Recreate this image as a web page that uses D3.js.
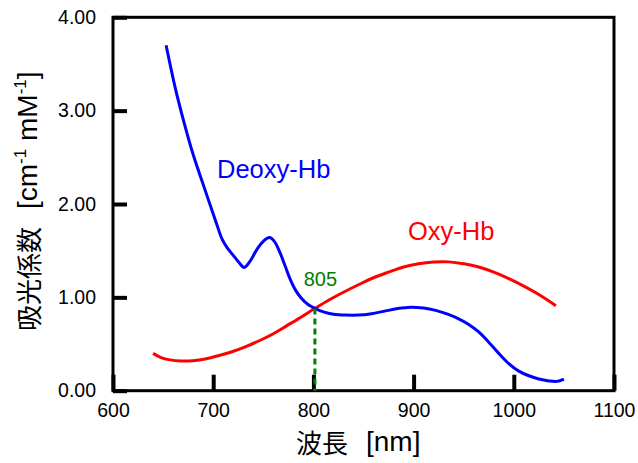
<!DOCTYPE html>
<html>
<head>
<meta charset="utf-8">
<script src="https://cdn.jsdelivr.net/npm/d3@7"></script>
<style>
  body { margin: 0; background: #fff; }
  svg { display: block; }
  text { font-family: "Liberation Sans", Arial, sans-serif; }
  .jp { font-family: "Noto Sans CJK JP", sans-serif; }
</style>
</head>
<body>
<div class="chart"></div>
<script>
const w = 638;
const h = 463;

// wavelength ticks / absorption ticks
const xTicks = [600, 700, 800, 900, 1000, 1100];
const yTicks = [0, 1, 2, 3, 4];

// Deoxy-Hb
const deoxyNm = [653, 662, 671, 680, 689, 696, 703, 709, 714, 720, 726, 731, 737, 744, 750, 756, 761, 767, 772, 777, 782, 788, 795, 802, 810, 820, 832, 845, 858, 870, 884, 897, 910, 922, 934, 945, 955, 965, 975, 985, 995, 1005, 1015, 1025, 1035, 1043, 1050];
const deoxyVal = [3.70, 3.25, 2.87, 2.53, 2.24, 2.02, 1.80, 1.62, 1.53, 1.45, 1.37, 1.32, 1.39, 1.52, 1.60, 1.64, 1.60, 1.47, 1.33, 1.19, 1.08, 0.99, 0.92, 0.88, 0.845, 0.82, 0.81, 0.81, 0.825, 0.85, 0.88, 0.895, 0.885, 0.86, 0.82, 0.77, 0.71, 0.63, 0.52, 0.40, 0.29, 0.21, 0.16, 0.125, 0.105, 0.10, 0.125];

// Oxy-Hb
const oxyNm = [640, 648, 657, 668, 680, 692, 705, 718, 732, 746, 760, 774, 788, 802, 816, 830, 845, 860, 875, 890, 905, 920, 935, 950, 965, 980, 995, 1010, 1025, 1042];
const oxyVal = [0.40, 0.355, 0.33, 0.318, 0.322, 0.34, 0.375, 0.415, 0.47, 0.535, 0.61, 0.70, 0.79, 0.885, 0.975, 1.055, 1.135, 1.21, 1.27, 1.325, 1.36, 1.378, 1.38, 1.36, 1.325, 1.27, 1.20, 1.12, 1.03, 0.91];

// crossing point (position as drawn) and its label
const crossNm = 801.5;
const crossVal = 0.88;
const crossLabel = "805";

const svg = d3.select(".chart").append("svg")
  .attr("width", w)
  .attr("height", h);

const x = d3.scaleLinear().domain([600, 1100]).range([113, 614]);
const y = d3.scaleLinear().domain([0, 4]).range([390.7, 17.3]);

const yAxis = d3.axisLeft(y)
  .tickValues(yTicks)
  .tickSizeInner(-14)
  .tickSizeOuter(0)
  .tickPadding(17)
  .tickFormat(d3.format(".2f"));

const xAxis = d3.axisBottom(x)
  .tickValues(xTicks)
  .tickSizeInner(-16)
  .tickSizeOuter(0)
  .tickPadding(12)
  .tickFormat(d3.format("d"));

const gy = svg.append("g").attr("transform", `translate(${x(600)},0)`).call(yAxis);
const gx = svg.append("g").attr("transform", `translate(0,${y(0)})`).call(xAxis);

[gx, gy].forEach(g => {
  g.select(".domain").remove();
  g.selectAll(".tick line")
    .attr("stroke", "#000")
    .attr("stroke-width", 4);
  g.selectAll(".tick text")
    .attr("fill", "#000")
    .style("font-size", "19.5px")
    .style("font-family", "'Liberation Sans', Arial, sans-serif");
});
gy.selectAll(".tick text").attr("x", -17);
gx.selectAll(".tick text").attr("y", 12);

// frame
svg.append("rect")
  .attr("x", x(600))
  .attr("y", y(4))
  .attr("width", x(1100) - x(600))
  .attr("height", y(0) - y(4))
  .attr("fill", "none")
  .attr("stroke", "#000")
  .attr("stroke-width", 3);

// curves
const line = d3.line()
  .x(d => x(d[0]))
  .y(d => y(d[1]))
  .curve(d3.curveCatmullRom.alpha(0.5));

svg.append("path")
  .datum(oxyNm.map((n, i) => [n, oxyVal[i]]))
  .attr("d", line)
  .attr("fill", "none")
  .attr("stroke", "#ff0000")
  .attr("stroke-width", 3);

svg.append("path")
  .datum(deoxyNm.map((n, i) => [n, deoxyVal[i]]))
  .attr("d", line)
  .attr("fill", "none")
  .attr("stroke", "#0000ff")
  .attr("stroke-width", 3);

// dashed line at crossing
svg.append("line")
  .attr("x1", x(crossNm))
  .attr("x2", x(crossNm))
  .attr("y1", y(crossVal))
  .attr("y2", y(0))
  .attr("stroke", "#008000")
  .attr("stroke-width", 3)
  .attr("stroke-dasharray", "6,4");

svg.append("text")
  .attr("x", x(crossNm) + 5.5)
  .attr("y", 286)
  .attr("text-anchor", "middle")
  .attr("fill", "#008000")
  .style("font-size", "20px")
  .text(crossLabel);

// series labels
svg.append("text")
  .attr("x", 217)
  .attr("y", 178)
  .attr("fill", "#0000ff")
  .style("font-size", "25.5px")
  .text("Deoxy-Hb");

svg.append("text")
  .attr("x", 408)
  .attr("y", 240)
  .attr("fill", "#ff0000")
  .style("font-size", "25.5px")
  .text("Oxy-Hb");

// x title
const xt = svg.append("text")
  .attr("x", 296)
  .attr("y", 451)
  .style("font-size", "28px");
xt.append("tspan").attr("class", "jp").attr("dy", 2).style("font-size", "26px").text("波長");
xt.append("tspan").attr("dx", 18).attr("dy", -2).text("[nm]");

// y title
const yt = svg.append("text")
  .attr("transform", "translate(37,331) rotate(-90)")
  .style("font-size", "28px");
yt.append("tspan").attr("class", "jp").attr("dy", 2).style("font-size", "26px").text("吸光係数");
yt.append("tspan").attr("dx", 18).attr("dy", -2).text("[cm");
yt.append("tspan").attr("dy", -11).style("font-size", "17px").text("-1");
yt.append("tspan").attr("dy", 11).text(" mM");
yt.append("tspan").attr("dy", -11).style("font-size", "17px").text("-1");
yt.append("tspan").attr("dy", 11).text("]");
</script>
</body>
</html>
